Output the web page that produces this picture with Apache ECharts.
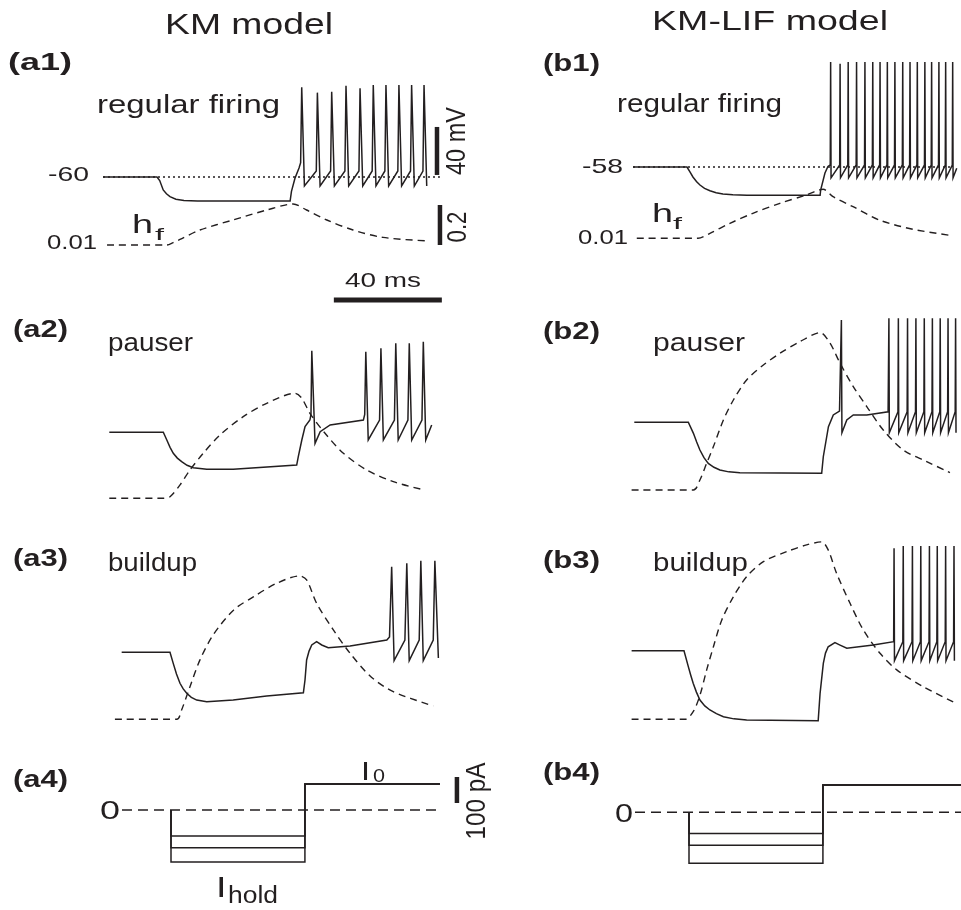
<!DOCTYPE html>
<html>
<head>
<meta charset="utf-8">
<script src="https://cdn.jsdelivr.net/npm/echarts@6/dist/echarts.min.js"></script>
<style>html,body{margin:0;padding:0;background:#fff;}#c{width:961px;height:910px;}</style>
</head>
<body>
<div id="c"></div>
<script>
// ---------------- DATA (t in ms, V in mV, h_f dimensionless, I in pA) ----------------
const a1V = [[0,-60],[20,-60],[21,-63],[22.3,-70.8],[23.5,-74],[24.8,-76.4],[27,-78.5],[30,-79.5],[35,-80],[69.3,-80],[69.8,-72],[71.1,-61],[72.6,-52.5],[73.2,-48],[73.6,14.8],[74.6,-67.5],
 [79.0,-55],[79.4,10.3],[80.4,-67.5],[84.3,-55],[84.7,11.1],[85.7,-67.5],[89.6,-55],[90.0,16.1],[91.0,-67.5],
 [94.8,-55],[95.2,13.9],[96.2,-67.5],[99.7,-55],[100.1,16.7],[101.1,-67.5],[104.4,-55],[104.8,16.7],[105.8,-67.5],
 [109.2,-55],[109.6,16.7],[110.6,-67.5],[113.9,-55],[114.3,16.7],[115.3,-67.5],[118.5,-55],[118.9,16.7],[119.9,-67.5]];
const a1H = [[1.5,0.01],[23.6,0.01],[26,0.022],[28.5,0.038],[35.9,0.085],[48.1,0.135],[60.7,0.185],[70.4,0.215],[75.4,0.185],[82.9,0.135],[92.6,0.085],[103.7,0.048],[119.3,0.031]];
const a1Rest = -60;

const b1V = [[0,-58],[20,-58],[20.4,-58.8],[21.2,-62.5],[22.2,-66.3],[23.5,-70],[24.8,-73],[26.5,-75.8],[28.5,-77.8],[30.8,-79.4],[33.3,-80.5],[37,-81.2],[42.2,-81.6],[69.3,-81.6],[69.5,-77.2],[71.1,-63],[72.2,-57.5],
 [73.05,-56.3],[73.2,29.5],[73.35,-67],[76.55,-56.3],[76.7,28],[76.85,-67],[79.55,-56.3],[79.7,29.5],[79.85,-67],
 [82.65,-56.3],[82.8,29.5],[82.95,-67],[85.75,-56.3],[85.9,29.5],[86.05,-67],[88.65,-56.3],[88.8,29.5],[88.95,-67],
 [91.35,-56.3],[91.5,29.5],[91.65,-67],[94.05,-56.3],[94.2,29.5],[94.35,-67],[96.85,-56.3],[97.0,29.5],[97.15,-67],
 [99.75,-56.3],[99.9,29.5],[100.05,-67],[102.45,-56.3],[102.6,29.5],[102.75,-67],[105.15,-56.3],[105.3,29.5],[105.45,-67],
 [107.95,-56.3],[108.1,29.5],[108.25,-67],[110.45,-56.3],[110.6,29.5],[110.75,-67],[113.15,-56.3],[113.3,29.5],[113.45,-67],
 [115.65,-56.3],[115.8,29.5],[115.95,-67],[118.25,-56.3],[118.4,29.5],[118.55,-67],[119.9,-59]];
const b1H = [[1.4,0.01],[24.1,0.01],[28.5,0.035],[35.9,0.085],[44.4,0.135],[54.4,0.185],[64.3,0.227],[70.4,0.255],[74.1,0.218],[81.5,0.168],[91.5,0.10],[103.7,0.055],[117.4,0.025]];
const b1Rest = -58;

const a2V = [[0,-60],[20,-60],[21.3,-66.4],[22.5,-72.5],[23.7,-77.5],[25.2,-81.5],[26.8,-84.5],[28.8,-87.5],[31.1,-89.5],[36.1,-90.8],[45.9,-90.8],[69.4,-87.3],[70.0,-80.3],[71.3,-66.4],[72.5,-55.3],[74.3,-49.8],[74.7,-45],[75.0,8],[76.2,-69.2],[78.1,-59.5],[81.8,-53.9],[94.1,-49.8],[94.6,-45],[95.0,7.2],[95.9,-66.4],
 [100.1,-49.8],[100.6,10],[101.5,-66.4],[105.6,-49.8],[106.1,14.2],[107.0,-66.4],[110.6,-49.8],[111.1,14.2],[112.0,-66.4],[115.8,-49.8],[116.3,15.5],[117.2,-66.4],[119.4,-53.9]];
const a2H = [[0,0.01],[20,0.01],[22.5,0.018],[26.2,0.077],[29.9,0.152],[34.8,0.235],[41.0,0.327],[49.6,0.418],[58.3,0.485],[68.8,0.535],[71.3,0.51],[74.3,0.435],[79.9,0.335],[86.7,0.235],[95.3,0.152],[105.2,0.093],[115.7,0.055]];

const b2V = [[0,-58],[20,-58],[21.9,-67.2],[23.1,-74.5],[24.3,-81.1],[25.8,-87.5],[27.4,-92.2],[29.5,-95.5],[31.7,-97.75],[35,-99.3],[39.1,-100],[69.4,-100.5],[70,-86.7],[71.9,-61.7],[73.7,-51.9],[76.0,-48.6],[76.7,27.3],[76.9,-66.7],[78.7,-56.1],[81.1,-51.9],[86.1,-51.9],
 [94.0,-49.2],[94.3,28.7],[94.45,-66.7],[97.65,-49.2],[97.8,28.7],[97.95,-66.7],[101.05,-49.2],[101.2,28.7],[101.35,-66.7],[104.15,-49.2],[104.3,28.7],[104.45,-66.7],
 [107.25,-49.2],[107.4,28.7],[107.55,-66.7],[110.25,-49.2],[110.4,28.7],[110.55,-66.7],[113.15,-49.2],[113.3,28.7],[113.45,-66.7],[116.05,-49.2],[116.2,28.7],[116.35,-66.7],[118.85,-49.2],[119.0,28.7],[119.15,-66.7]];
const b2H = [[-1,0.01],[21.9,0.01],[24.3,0.06],[26.8,0.144],[29.3,0.227],[33.0,0.36],[36.7,0.46],[41.6,0.56],[47.8,0.635],[54.0,0.694],[61.4,0.752],[68.8,0.797],[72.5,0.744],[76.2,0.644],[81.1,0.527],[86.1,0.427],[92.2,0.31],[99.6,0.21],[108.3,0.152],[116.9,0.097]];

const a3V = [[2.1,-60],[20,-60],[21.2,-69.2],[22.4,-78],[23.7,-85.8],[24.9,-90.5],[26.2,-94.2],[27.9,-97.5],[29.9,-99.8],[33.6,-101.2],[43.4,-99.8],[55.8,-96.4],[69.4,-93.7],[70,-83.1],[70.6,-66.4],[71.5,-59],[72.5,-53.9],[74.3,-51.2],[76.2,-53.9],[78.6,-56.2],[86.7,-54.8],[100.3,-49.8],[101.3,-47.3],[102.1,11.3],[103.0,-67],
 [107.0,-49.8],[107.7,14.2],[108.6,-67],[112.3,-49.8],[112.9,16.3],[113.8,-67],[117.5,-49.8],[118.1,16.3],[119.4,-64.8]];
const a3H = [[-0.4,0.01],[22.5,0.01],[24.3,0.057],[27.4,0.173],[31.1,0.307],[36.0,0.432],[43.6,0.557],[51.0,0.623],[59.5,0.69],[68.1,0.727],[70.6,0.707],[74.3,0.59],[80.5,0.457],[86.7,0.34],[94.4,0.223],[102.7,0.148],[117.5,0.077]];

const b3V = [[0.6,-58],[20,-58],[21.6,-71.3],[22.5,-78.5],[23.4,-85.2],[24.6,-92.5],[25.9,-99.1],[27.7,-104],[29.6,-107.4],[32,-110.5],[34.6,-113],[38.5,-114.8],[43.2,-115.8],[69.7,-116.3],[70.4,-93.5],[71.6,-68.5],[72.4,-60],[73.4,-54.7],[75.9,-51.3],[77.8,-53.3],[80.3,-56],[90.1,-53.3],
 [97.65,-50.5],[97.8,27.3],[97.95,-66.3],[101.05,-50.5],[101.2,29.3],[101.35,-66.3],[104.45,-50.5],[104.6,29.3],[104.75,-66.3],[107.55,-50.5],[107.7,29.3],[107.85,-66.3],
 [110.75,-50.5],[110.9,29.3],[111.05,-66.3],[113.65,-50.5],[113.8,29.3],[113.95,-66.3],[116.75,-50.5],[116.9,29.3],[117.05,-66.3],[119.85,-50.5],[120.0,29.3],[120.15,-66.3]];
const b3H = [[0.6,0.01],[20.4,0.01],[23.4,0.048],[25.9,0.13],[28.4,0.257],[30.9,0.373],[34.0,0.507],[38.3,0.623],[43.2,0.723],[49.4,0.798],[58.0,0.848],[65.4,0.882],[71.0,0.897],[73.4,0.857],[76.5,0.74],[81.5,0.59],[86.4,0.457],[92.6,0.34],[98.8,0.257],[108.6,0.173],[119.7,0.097]];

// current protocols
const a4Hold = [-100, -145, -200];
const a4I0 = 100;
const a4Times = [20, 69.6, 119.6];   // step on, step off, end
const a4ZeroSpan = [1.85, 119.6];
const b4Hold = [-82, -127, -196];
const b4I0 = 105;
const b4Times = [20, 69.6, 121.5];
const b4ZeroSpan = [0, 121.5];

// reference lines and scale bars
const a1RestSpan = [0, 124.8];
const b1RestSpan = [0, 118.5];
const barMV = 40, barH = 0.2, barMS = 40, barPA = 100;

// ---------------- LAYOUT ----------------
const PX_MS = 2.7, PX_MV = 1.2, PX_H = 200, PX_PA = 0.26;
const INK = '#231f20';
const FONT = '"Liberation Sans", Arial, Helvetica, sans-serif';

const grids = [], xAxes = [], yAxes = [], series = [];
function addGrid(x0, refPx, refVal, ppu, hPx) {
  const gi = grids.length;
  const top = refPx - 260, height = 520;
  grids.push({left: x0 - 10 * PX_MS, top: top, width: 150 * PX_MS, height: height,
    containLabel: false, outerBoundsMode: 'none'});
  xAxes.push({type: 'value', gridIndex: gi, min: -10, max: 140, show: false});
  const yi = yAxes.length;
  yAxes.push({type: 'value', gridIndex: gi, show: false,
    max: refVal + (refPx - top) / ppu, min: refVal - (top + height - refPx) / ppu});
  let hi = null;
  if (hPx !== undefined) {
    hi = yAxes.length;
    yAxes.push({type: 'value', gridIndex: gi, show: false,
      max: 0.01 + (hPx - top) / PX_H, min: 0.01 - (top + height - hPx) / PX_H});
  }
  return {x: gi, y: yi, h: hi};
}
function line(ax, yi, data, style) {
  series.push({type: 'line', xAxisIndex: ax.x, yAxisIndex: yi, data: data, symbol: 'none',
    showSymbol: false, silent: true, animation: false, clip: false,
    smooth: style.smooth || false,
    lineStyle: Object.assign({color: INK, width: 1.5, cap: 'butt', join: 'miter'}, style.ls || {})});
}
const DASH = {width: 1.4, type: [7, 5]};
const DOT = {width: 1.3, type: [2, 3]};
const BAR = {width: 4.5, cap: 'butt'};

const gA1 = addGrid(103, 177, a1Rest, PX_MV, 245);
const gB1 = addGrid(633, 167, b1Rest, PX_MV, 238.3);
const gA2 = addGrid(109.3, 432.3, -60, PX_MV, 498.3);
const gB2 = addGrid(634.3, 422.3, -58, PX_MV, 490);
const gA3 = addGrid(116, 652.3, -60, PX_MV, 719.3);
const gB3 = addGrid(630, 650.7, -58, PX_MV, 719.3);
const gA4 = addGrid(117, 810, 0, PX_PA);
const gB4 = addGrid(635, 812.3, 0, PX_PA);

// panel 1
line(gA1, gA1.y, a1RestSpan.map(t => [t, a1Rest]), {ls: DOT});
line(gB1, gB1.y, b1RestSpan.map(t => [t, b1Rest]), {ls: DOT});
[[gA1, a1V, a1H], [gB1, b1V, b1H], [gA2, a2V, a2H], [gB2, b2V, b2H], [gA3, a3V, a3H], [gB3, b3V, b3H]].forEach(([g, v, h]) => {
  line(g, g.h, h, {ls: DASH, smooth: 0.3});
  line(g, g.y, v, {});
});
// scale bars in a1
line(gA1, gA1.y, [[123.7, -58.3], [123.7, -58.3 + barMV]], {ls: BAR});
line(gA1, gA1.h, [[124.8, 0.01], [124.8, 0.01 + barH]], {ls: BAR});
line(gA1, gA1.y, [[85.5, -162.5], [85.5 + barMS, -162.5]], {ls: {width: 5, cap: 'butt'}});
// current panels
function currentPanel(g, holds, i0, times, zero) {
  line(g, g.y, zero.map(t => [t, 0]), {ls: {width: 1.4, type: [10, 6]}});
  holds.forEach(hv => line(g, g.y, [[times[0], 0], [times[0], hv], [times[1], hv], [times[1], i0], [times[2], i0]], {ls: {width: 1.5}}));
}
currentPanel(gA4, a4Hold, a4I0, a4Times, a4ZeroSpan);
currentPanel(gB4, b4Hold, b4I0, b4Times, b4ZeroSpan);
line(gA4, gA4.y, [[125.9, 27], [125.9, 27 + barPA]], {ls: BAR});

// ---------------- TEXT ----------------
const mctx = document.createElement('canvas').getContext('2d');
function measure(str, size, bold) {
  mctx.font = (bold ? 'bold ' : '') + size + 'px ' + FONT;
  return mctx.measureText(str).width;
}
const graphics = [];
function txt(str, left, cy, size, width, bold) {
  const s = width ? width / measure(str, size, bold) : 1.3;
  graphics.push({type: 'text', x: left, y: cy, scaleX: s, silent: true,
    style: {text: str, fontSize: size, fontFamily: FONT, fontWeight: bold ? 'bold' : 'normal', fill: INK, align: 'left', verticalAlign: 'middle'}});
}
function rtxt(str, cx, cy, size, len) {
  graphics.push({type: 'text', x: cx, y: cy, rotation: Math.PI / 2, scaleX: len / measure(str, size), scaleY: 1.3, silent: true,
    style: {text: str, fontSize: size, fontFamily: FONT, fill: INK, align: 'center', verticalAlign: 'middle'}});
}
txt('KM model', 165, 26, 29, 168);
txt('KM-LIF model', 652, 22, 28, 236);
txt('(a1)', 8, 63, 24, 64, true);
txt('(b1)', 543, 64, 24, 57, true);
txt('(a2)', 13, 330, 24, 55, true);
txt('(b2)', 543, 332, 24, 57, true);
txt('(a3)', 13, 559, 24, 55, true);
txt('(b3)', 543, 561, 24, 57, true);
txt('(a4)', 13, 780, 24, 55, true);
txt('(b4)', 543, 773, 24, 57, true);
txt('regular firing', 97, 106, 26, 183);
txt('regular firing', 617, 105, 25, 165);
txt('pauser', 108, 344, 26, 85);
txt('pauser', 653, 344, 26, 92);
txt('buildup', 108, 564, 26, 89);
txt('buildup', 653, 564, 26, 95);
txt('-60', 48, 175, 21, 41);
txt('0.01', 47, 243, 21, 50);
txt('-58', 582, 167, 21, 41);
txt('0.01', 578, 238, 21, 50);
txt('h', 132, 226, 25, 21);
txt('f', 155, 235, 17, 9);
txt('h', 652, 215, 25, 21);
txt('f', 673, 224, 17, 9);
txt('40 ms', 345, 281, 21, 76);
txt('0', 100, 812, 26, 20);
txt('0', 615, 815, 26, 18);
txt('I', 361, 773, 25);
txt('0', 373, 777, 19, 12);
txt('I', 216, 889, 29);
txt('hold', 228, 897, 23, 50);
rtxt('40 mV', 457, 141, 21, 68);
rtxt('0.2', 458, 227, 21, 31);
rtxt('100 pA', 477, 801, 21, 77);

const chart = echarts.init(document.getElementById('c'), null, {renderer: 'canvas'});
chart.setOption({
  animation: false,
  backgroundColor: '#ffffff',
  grid: grids, xAxis: xAxes, yAxis: yAxes, series: series,
  graphic: graphics
});
</script>
</body>
</html>
